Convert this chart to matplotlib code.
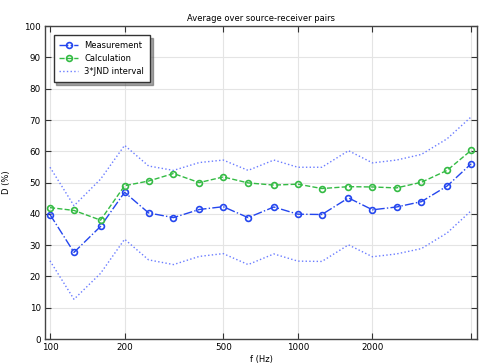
import matplotlib
matplotlib.use("Agg")
import matplotlib.pyplot as plt
from matplotlib.ticker import FixedLocator, NullLocator

# third-octave band centre frequencies
freq = [100, 125, 160, 200, 250, 315, 400, 500, 630, 800,
        1000, 1250, 1600, 2000, 2500, 3150, 4000, 5000]

measurement = [39.8, 27.7, 36.0, 46.9, 40.3, 38.8, 41.4, 42.3, 38.8, 42.2,
               39.9, 39.8, 45.1, 41.3, 42.2, 43.9, 48.9, 56.0]
calculation = [42.0, 41.1, 38.0, 49.0, 50.5, 52.9, 50.0, 51.8, 49.9, 49.2,
               49.5, 48.1, 48.7, 48.6, 48.3, 50.1, 53.9, 60.3]
jnd_upper = [54.9, 42.6, 51.1, 61.9, 55.3, 53.9, 56.4, 57.2, 53.9, 57.2,
             54.9, 54.9, 60.2, 56.3, 57.2, 59.0, 64.0, 71.0]
jnd_lower = [25.0, 12.7, 21.0, 31.9, 25.3, 23.8, 26.4, 27.3, 23.8, 27.2,
             24.9, 24.8, 30.1, 26.3, 27.2, 28.9, 33.9, 41.0]

xticks = [100, 200, 500, 1000, 2000, 5000]
xticklabels = ['100', '200', '500', '1000', '2000', '']

blue = '#2446ee'
green = '#34bb44'
light_blue = '#6a7cff'

fig = plt.figure(figsize=(4.82, 3.63), dpi=100)
ax = fig.add_axes([0.0934, 0.066, 0.8962, 0.862])

ax.plot(freq, measurement, color=blue, linestyle='-.', linewidth=1.0,
        marker='o', markersize=4.2, markerfacecolor='none', markeredgewidth=1.2,
        label='Measurement')
ax.plot(freq, calculation, color=green, linestyle='--', linewidth=1.0,
        marker='o', markersize=4.2, markerfacecolor='none', markeredgewidth=1.2,
        label='Calculation')
ax.plot(freq, jnd_upper, color=light_blue, linestyle=':', linewidth=1.0,
        label='3*JND interval')
ax.plot(freq, jnd_lower, color=light_blue, linestyle=':', linewidth=1.0)

ax.set_xscale('log')
ax.set_xlim(95.5, 5280)
ax.set_ylim(0, 100)
ax.xaxis.set_major_locator(FixedLocator(xticks))
ax.xaxis.set_minor_locator(NullLocator())
ax.set_xticklabels(xticklabels)
ax.set_yticks(range(0, 101, 10))

ax.grid(True, color='#e4e4e4', linewidth=0.8)
ax.set_axisbelow(True)
ax.tick_params(direction='in', top=True, right=True, labelsize=6.3,
               length=4, width=0.8, colors='#333333', labelcolor='black')
ax.tick_params(axis='x', pad=2.5)
ax.tick_params(axis='y', pad=3)
for s in ax.spines.values():
    s.set_color('#444444')
    s.set_linewidth(1.0)

ax.set_title('Average over source-receiver pairs', fontsize=6, pad=4)
ax.set_xlabel('f (Hz)', fontsize=6)
ax.set_ylabel('D (%)', fontsize=6)
ax.xaxis.set_label_coords(0.5, -0.05)
ax.yaxis.set_label_coords(-0.079, 0.5)

leg = ax.legend(loc='upper left', fontsize=6, fancybox=False, shadow=True,
                framealpha=1, edgecolor='#333333', handlelength=2.2,
                borderpad=0.7, labelspacing=0.5, bbox_to_anchor=(0.01, 0.985))
leg.get_frame().set_linewidth(1.0)

fig.savefig('out.png', dpi=100)
